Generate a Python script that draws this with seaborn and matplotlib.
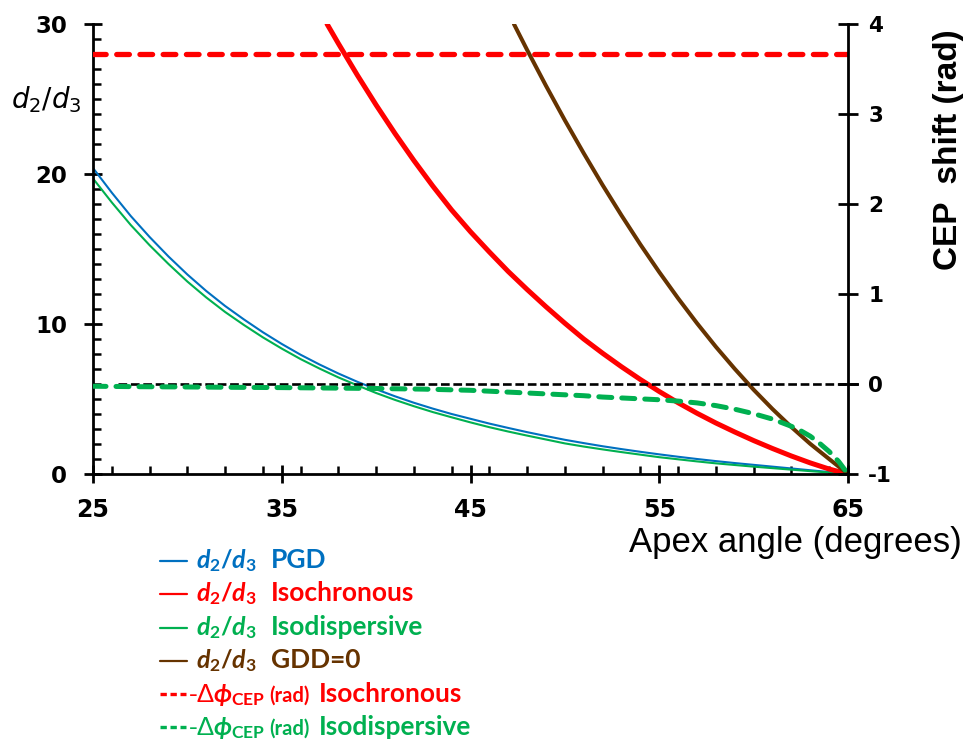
import matplotlib
matplotlib.use("Agg")
import matplotlib.pyplot as plt
from matplotlib.lines import Line2D
from matplotlib.ticker import MultipleLocator
import seaborn as sns

# ---- data -------------------------------------------------------------
# d2/d3 ratio for the PGD and isodispersive designs (left axis)
apex_ratio = [25, 26, 27, 28, 29, 30, 31, 32, 33, 34, 35, 36, 37, 38, 39, 40, 41, 42, 43, 44,
              45, 46, 47, 48, 49, 50, 51, 52, 53, 54, 55, 56, 57, 58, 59, 60, 61, 62, 63, 64, 65]
d23_pgd = [20.4, 18.75, 17.2, 15.8, 14.5, 13.3, 12.2, 11.2, 10.3, 9.45, 8.67, 7.95, 7.3, 6.7,
           6.15, 5.65, 5.18, 4.75, 4.36, 4.0, 3.68, 3.36, 3.07, 2.79, 2.53, 2.28, 2.06, 1.85,
           1.66, 1.48, 1.31, 1.15, 1.0, 0.86, 0.73, 0.61, 0.49, 0.37, 0.25, 0.13, 0.0]
d23_isodisp = [19.7, 18.1, 16.6, 15.25, 14.0, 12.83, 11.77, 10.8, 9.93, 9.11, 8.36, 7.66, 7.03,
               6.44, 5.91, 5.4, 4.94, 4.52, 4.13, 3.78, 3.44, 3.12, 2.83, 2.56, 2.3, 2.04, 1.83,
               1.64, 1.46, 1.29, 1.12, 0.98, 0.84, 0.71, 0.6, 0.49, 0.39, 0.29, 0.19, 0.1, 0.0]

# d2/d3 ratio for the isochronous design (left axis)
apex_iso = [37.4, 38, 39, 40, 41, 42, 43, 44, 45, 46, 47, 48, 49, 50, 51, 52, 53,
            54, 55, 56, 57, 58, 59, 60, 61, 62, 63, 64, 65]
d23_iso = [30.0, 28.7, 26.6, 24.6, 22.7, 20.9, 19.2, 17.6, 16.15, 14.8, 13.5, 12.3, 11.15,
           10.05, 9.0, 8.05, 7.15, 6.3, 5.5, 4.75, 4.05, 3.4, 2.8, 2.23, 1.7, 1.2, 0.74, 0.33, 0.0]

# d2/d3 ratio for the GDD = 0 design (left axis)
apex_gdd0 = [47.3, 48, 49, 50, 51, 52, 53, 54, 55, 56, 57, 58, 59, 60, 61, 62, 63, 64, 65]
d23_gdd0 = [30.0, 28.27, 25.88, 23.58, 21.38, 19.26, 17.24, 15.3, 13.46, 11.71, 10.05, 8.48,
            7.01, 5.62, 4.33, 3.13, 2.01, 1.0, 0.0]

# CEP shift (rad, right axis)
apex_cep = [25, 27.5, 30, 32.5, 35, 37.5, 40, 42.5, 45, 46, 47, 48, 49, 50, 51, 52, 53, 54, 55,
            56, 57, 58, 59, 60, 61, 62, 62.5, 63, 63.5, 64, 64.5, 65]
cep_isodisp = [-0.025, -0.03, -0.033, -0.037, -0.04, -0.045, -0.05, -0.057, -0.07, -0.08, -0.09,
               -0.1, -0.11, -0.12, -0.13, -0.145, -0.155, -0.165, -0.175, -0.19, -0.21, -0.24,
               -0.28, -0.33, -0.39, -0.47, -0.52, -0.58, -0.66, -0.75, -0.86, -1.0]
apex_cep_iso = [25, 65]
cep_iso = [3.667, 3.667]
apex_zero = [26.3, 65.6]
cep_zero = [0.0, 0.0]

x_ticks = [25, 35, 45, 55, 65]
x_ticklabels = ["25", "35", "45", "55", "65"]
yl_ticks = [0, 10, 20, 30]
yl_ticklabels = ["0", "10", "20", "30"]
yr_ticks = [-1, 0, 1, 2, 3, 4]
yr_ticklabels = ["-1", "0", "1", "2", "3", "4"]

BLUE = "#0070C0"
RED = "#FF0000"
GREEN = "#00B050"
BROWN = "#663300"

# ---- style ------------------------------------------------------------
sns.set_theme(style="ticks")
plt.rcParams["font.family"] = ["DejaVu Sans"]
plt.rcParams["text.color"] = "black"
plt.rcParams["axes.labelcolor"] = "black"
plt.rcParams["xtick.color"] = "black"
plt.rcParams["ytick.color"] = "black"
plt.rcParams["mathtext.fontset"] = "dejavusans"
plt.rcParams["mathtext.it"] = "Lato:italic:bold"
plt.rcParams["mathtext.rm"] = "Lato:bold"
plt.rcParams["mathtext.bf"] = "Lato:bold"
plt.rcParams["mathtext.sf"] = "Liberation Sans"

W, H = 969, 742
fig = plt.figure(figsize=(W / 100, H / 100), dpi=100)
fig.patch.set_facecolor("white")
ax = fig.add_axes([93 / W, 1 - 474 / H, 755 / W, 450 / H])
ax2 = ax.twinx()

# ---- curves -----------------------------------------------------------
sns.lineplot(x=apex_ratio, y=d23_pgd, ax=ax, color=BLUE, linewidth=1.5)
sns.lineplot(x=apex_ratio, y=d23_isodisp, ax=ax, color=GREEN, linewidth=1.5)
sns.lineplot(x=apex_iso, y=d23_iso, ax=ax, color=RED, linewidth=3.6)
sns.lineplot(x=apex_gdd0, y=d23_gdd0, ax=ax, color=BROWN, linewidth=2.9)

sns.lineplot(x=apex_zero, y=cep_zero, ax=ax2, color="black", linewidth=1.9,
             linestyle=(0, (3.3, 1.4)), clip_on=False)
sns.lineplot(x=apex_cep, y=cep_isodisp, ax=ax2, color=GREEN, linewidth=3.6,
             linestyle=(0, (2.6, 2.0)), dash_capstyle="round")
sns.lineplot(x=apex_cep_iso, y=cep_iso, ax=ax2, color=RED, linewidth=3.8,
             linestyle=(0, (2.4, 2.0)), dash_capstyle="round")

# ---- axes -------------------------------------------------------------
ax.set_xlim(25, 65)
ax.set_ylim(0, 30)
ax2.set_ylim(-1, 4)

ax.set_xticks(x_ticks, labels=x_ticklabels, fontweight="bold", fontsize=17)
ax.set_yticks(yl_ticks, labels=yl_ticklabels, fontweight="bold", fontsize=16.5)
ax2.set_yticks(yr_ticks, labels=yr_ticklabels, fontweight="bold", fontsize=15.5)
ax.xaxis.set_minor_locator(MultipleLocator(2))
ax.yaxis.set_minor_locator(MultipleLocator(1))

ax.tick_params(which="major", direction="inout", length=13, width=2, color="black",
               labelcolor="black")
ax.tick_params(which="minor", direction="in", length=6, width=1.8, color="black")
ax.tick_params(axis="x", which="major", pad=11)
ax.tick_params(axis="y", which="major", pad=12)
ax2.tick_params(axis="y", which="major", direction="inout", length=15, width=2,
                color="black", labelcolor="black", pad=7)
ax2.yaxis.set_minor_locator(plt.NullLocator())

for a in (ax, ax2):
    for s in a.spines.values():
        s.set_linewidth(2)
        s.set_color("black")
    a.spines["top"].set_visible(False)
ax.spines["right"].set_visible(False)
ax2.spines["left"].set_visible(False)
ax2.spines["bottom"].set_visible(False)
ax.grid(False)
ax2.grid(False)

ax.set_xlabel("Apex angle (degrees)", fontsize=25, family="Liberation Sans",
              color="black", ha="center", va="baseline")
ax.xaxis.set_label_coords((795 - 93) / 755, -(552 - 474) / 450)
ax.set_ylabel("$d_2/d_3$", fontsize=20, rotation=0, ha="center", va="center",
              color="black", math_fontfamily="dejavusans")
ax.yaxis.set_label_coords(-47 / 755, (474 - 100) / 450)
ax2.set_ylabel("CEP  shift (rad)", fontsize=24, family="Liberation Sans",
               fontweight="bold", rotation=90, ha="center", va="center", color="black")
ax2.yaxis.set_label_coords((948 - 93) / 755, (474 - 150) / 450)

# ---- legend block below the plot ---------------------------------------
def fx(px):
    return px / W


def fy(py):
    return 1 - py / H


LEG_FS = 19
MATH_FS = 18
row_base = [568 + 33.4 * i for i in range(6)]
solid_rows = [(BLUE, "PGD"), (RED, "Isochronous"), (GREEN, "Isodispersive"), (BROWN, "GDD=0")]
for (col, name), yb in zip(solid_rows, row_base[:4]):
    fig.add_artist(Line2D([fx(160), fx(187)], [fy(yb - 7), fy(yb - 7)],
                          transform=fig.transFigure, color=col, linewidth=1.6))
    fig.text(fx(196), fy(yb), "$d_2/d_3$", color=col, fontsize=MATH_FS,
             va="baseline", ha="left", math_fontfamily="custom")
    fig.text(fx(271), fy(yb), name, color=col, fontsize=LEG_FS, family="Lato",
             fontweight="bold", va="baseline", ha="left")

dashed_rows = [(RED, "Isochronous"), (GREEN, "Isodispersive")]
for (col, name), yb in zip(dashed_rows, row_base[4:]):
    fig.add_artist(Line2D([fx(160), fx(186)], [fy(yb - 8), fy(yb - 8)],
                          transform=fig.transFigure, color=col, linewidth=2.4,
                          linestyle=(0, (1.9, 1.1))))
    fig.text(fx(189), fy(yb), "-\u0394", color=col, fontsize=LEG_FS,
             family="Liberation Sans", va="baseline", ha="left")
    fig.text(fx(213), fy(yb), r"$\phi_\mathrm{CEP}$", color=col, fontsize=MATH_FS,
             va="baseline", ha="left", math_fontfamily="custom")
    fig.text(fx(269), fy(yb), "(rad)", color=col, fontsize=14.5, family="Lato",
             fontweight="bold", va="baseline", ha="left")
    fig.text(fx(319), fy(yb), name, color=col, fontsize=LEG_FS, family="Lato",
             fontweight="bold", va="baseline", ha="left")

fig.savefig("out.png", dpi=100, facecolor="white")
